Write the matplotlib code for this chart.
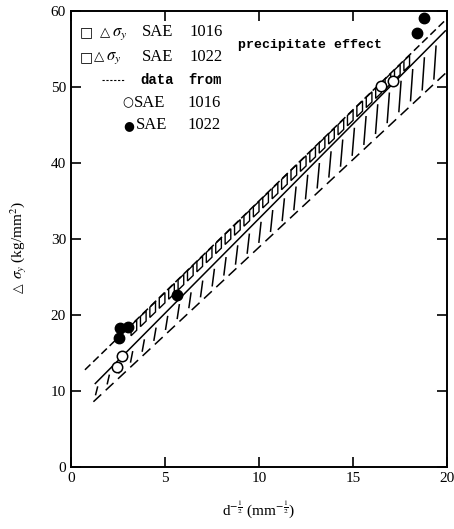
import numpy as np
import matplotlib.pyplot as plt
from matplotlib.collections import LineCollection
from matplotlib.patches import Polygon

plt.rcParams['mathtext.fontset'] = 'stix'
plt.rcParams['font.family'] = ['Liberation Serif', 'DejaVu Sans']

# band edges (x = d^-1/2, y = delta sigma_y)
upper_x = [0.75, 19.9]
upper_y = [12.8, 58.8]
solid_x = [1.3, 19.9]
solid_y = [11.0, 57.4]
lower_x = [1.2, 19.9]
lower_y = [8.6, 51.8]

# measured points
sae1016_x = [2.45, 2.7, 16.5, 17.1]
sae1016_y = [13.2, 14.6, 50.1, 50.8]
sae1022_x = [2.55, 2.6, 3.05, 5.65, 18.4, 18.75]
sae1022_y = [17.0, 18.3, 18.5, 22.6, 57.1, 59.1]

xticks = [0, 5, 10, 15, 20]
yticks = [0, 10, 20, 30, 40, 50, 60]


def yu(x):
    return np.interp(x, upper_x, upper_y)


def ys(x):
    return np.interp(x, solid_x, solid_y)


def yl(x):
    return np.interp(x, lower_x, lower_y)


fig = plt.figure(figsize=(4.54, 5.29), dpi=100)
ax = fig.add_axes([0.156, 0.117, 0.829, 0.862])

# upper dashed line, solid line, lower dashed line
ax.plot(upper_x, upper_y, color='k', lw=1.1, ls=(0, (5, 2.5)))
ax.plot(solid_x, solid_y, color='k', lw=1.1)
ax.plot(lower_x, lower_y, color='k', lw=1.1, ls=(0, (7, 4)))

# chain of small squares under the upper line
for x0 in np.arange(3.2, 18.1, 0.5):
    x1 = x0 + 0.3
    pts = [(x0, yu(x0) - 1.4), (x1, yu(x1) - 1.4), (x1, yu(x1) - 0.05), (x0, yu(x0) - 0.05)]
    ax.add_patch(Polygon(pts, closed=True, fill=False, ec='k', lw=1.0))

# vertical strokes in the lower band
segs = []
for x in np.arange(1.35, 19.8, 0.62):
    segs.append([(x - 0.04, yl(x) + 0.5), (x + 0.08, ys(x) - 0.5)])
ax.add_collection(LineCollection(segs, colors='k', lw=1.1))

ax.plot(sae1016_x, sae1016_y, 'o', ms=7.5, mfc='white', mec='k', mew=1.1)
ax.plot(sae1022_x, sae1022_y, 'o', ms=7.5, mfc='k', mec='k')

ax.set_xlim(0, 20)
ax.set_ylim(0, 60)
ax.set_xticks(xticks)
ax.set_yticks(yticks)
ax.tick_params(direction='in', length=7, width=1.2, top=True, right=True, labelsize=11)
for s in ax.spines.values():
    s.set_linewidth(1.4)

# legend written as text
kw = dict(fontsize=12, va='center')
sym = dict(va='center', family='DejaVu Sans')
ax.text(0.5, 57.2, '□', fontsize=10, **sym)
ax.text(1.55, 57.2, '△', fontsize=9.5, **sym)
ax.text(2.2, 57.0, r'$\sigma_y$', **kw)
ax.text(3.78, 57.2, 'SAE', **kw)
ax.text(6.33, 57.2, '1016', **kw)
ax.text(0.5, 54.0, '□', fontsize=10, **sym)
ax.text(1.22, 54.0, '△', fontsize=9.5, **sym)
ax.text(1.85, 53.8, r'$\sigma_y$', **kw)
ax.text(3.78, 54.0, 'SAE', **kw)
ax.text(6.33, 54.0, '1022', **kw)
ax.plot([1.65, 2.87], [50.9, 50.9], color='k', lw=0.8, ls=(0, (2, 1.5)))
ax.text(3.67, 50.9, 'data', fontsize=10, va='center', family='Liberation Mono', weight='bold')
ax.text(6.22, 50.9, 'from', fontsize=10, va='center', family='Liberation Mono', weight='bold')
ax.text(2.75, 47.9, '○', fontsize=9, **sym)
ax.text(3.35, 47.9, 'SAE', **kw)
ax.text(6.22, 47.9, '1016', **kw)
ax.text(2.8, 45.0, '●', fontsize=9, **sym)
ax.text(3.45, 45.0, 'SAE', **kw)
ax.text(6.22, 45.0, '1022', **kw)
ax.text(8.9, 55.6, 'precipitate effect', fontsize=9.5, va='center', family='Liberation Mono', weight='bold')

ax.set_xlabel(r'd$^{-\frac{1}{2}}$ (mm$^{-\frac{1}{2}}$)', fontsize=11, labelpad=10)
# y label in two pieces so the triangle stays small
fig.text(0.042, 1 - 293 / 529, '△', rotation=90, ha='center', va='bottom', fontsize=9, family='DejaVu Sans')
fig.text(0.042, 1 - 279 / 529, r'$\sigma_y$ (kg/mm$^2$)', rotation=90, ha='center', va='bottom', fontsize=11)

fig.savefig('out.png', dpi=100)
